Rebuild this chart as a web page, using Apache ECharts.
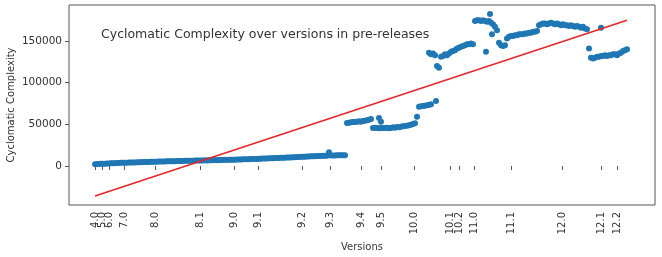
<!DOCTYPE html>
<html>
<head>
<meta charset="utf-8">
<script src="https://cdn.jsdelivr.net/npm/echarts@6/dist/echarts.min.js"></script>
<style>
html,body{margin:0;padding:0;background:#fff;}
#c{width:662px;height:257px;}
</style>
</head>
<body>
<div id="c"></div>
<script>
// Version labels and the pre-release index at which each version starts
const versions = ['4.0','5.0','6.0','7.0','8.0','8.1','9.0','9.1','9.2','9.3','9.4','9.5','10.0','10.1','10.2','11.0','11.1','12.0','12.1','12.2'];
const versionPos = [13,16.5,20,27.5,43,65.5,82.5,94.5,116.5,130.5,146,156,172.5,190.5,195,202.5,221,246.5,266,274];

// Cyclomatic complexity per pre-release (index starts at firstIndex)
const firstIndex = 13;
const ccV4toV9 = [
  2200,2400,2300,2600,2800,2700,3000,3100,3200,3300,3400,3500,3600,3800,3900,4000,
  4000,4100,4200,4300,4300,4500,4600,4600,4700,4800,4900,4900,5000,5100,5200,
  5200,5300,5400,5400,5500,5600,5600,5700,5800,5800,5900,6000,6000,6100,6200,6200,6300,6300,6400,6500,6500,6600,
  6700,6700,6800,6600,6900,7000,7000,7100,7000,7200,7300,7200,7400,7300,7500,7400,7600,
  7600,7700,7800,7900,8000,8000,8100,8200,8300,8400,8500,8500,8700,
  8800,8900,9000,9100,9200,9300,9400,9500,9600,9700,9800,9900,10000,10100,10200,10300,10400,10600,10700,10800,11000,
  11100,11200,11300,11500,11600,11700,11800,11900,12000,12100,12200,12300,12400,16400,12500,
  12600,12700,12800,12800,12900,13000,12900
];
const ccV9toV10 = [
  51600,52000,52400,52800,52800,53200,53600,53200,54000,54400,54800,55600,56400,
  45600,46000,45600,45200,45600,
  45600,45600,46000,45200,45600,46400,46000,46800,46400,47200,47600,48000,48400,48800,49600,50400,51200
];
const ccV10toV12 = [
  59200,71000,71600,72000,72400,72800,73200,74000,
  135000,133000,120000,118000,131000,132000,134000,133000,135000,137000,138000,139000,141000,142000,143000,144000,145000,146000,146000,147000,146000,
  174000,175000,175000,174000,175000,174000,173000,174000,172000,170000,167000,163000,
  148000,145000,144000,145000,153000,155000,
  156000,156000,157000,157000,158000,158000,158000,159000,159000,160000,160000,161000,161000,162000,169000,
  170000,171000,171000,170000,171000,172000,171000,170000,171000,170000,169000,170000,
  169000,169000,168000,169000,168000,167000,168000,167000,166000,167000,165000,164000,
  141000,
  130000,129000,130000,131000,131000,132000,132000,133000,132000,133000,133000,134000,134000,133000,135000,136000,138000,139000,140000
];
// isolated pre-releases [index, value]
const extraPoints = [[155,57600],[156,53000],[180,136000],[181,134000],[183.5,78000],[208.5,137000],[210.5,182400],[211.5,158000],[266,166000]];
// linear trend end points [index, value]
const trendLine = [[13,-36000],[279,175000]];
const yTicks = [0,50000,100000,150000];

const cc = ccV4toV9.concat(ccV9toV10, ccV10toV12);
const scatterData = cc.map((v,k)=>[firstIndex+k, v]).concat(extraPoints);
const labelMap = new Map(versionPos.map((p,i)=>[p, versions[i]]));
// labels split across two axes so crowded neighbours are not auto-hidden
const posA = versionPos.filter((p,i)=>i!==1);
const posB = versionPos.filter((p,i)=>i===1);

const chart = echarts.init(document.getElementById('c'), null, {renderer:'canvas'});
const font = 'DejaVu Sans';
const xLabel = (vals)=>({customValues:vals, rotate:90, margin:7, fontFamily:font, fontSize:10, color:'#333',
      showMinLabel:true, showMaxLabel:true, hideOverlap:false,
      formatter:(v)=>labelMap.has(v)?labelMap.get(v):''});
chart.setOption({
  animation:false,
  backgroundColor:'#fff',
  title:{
    text:'Cyclomatic Complexity over versions in pre-releases',
    left:96, top:23,
    textStyle:{fontFamily:font, fontSize:12.5, fontWeight:'normal', color:'#333'}
  },
  grid:{left:69, right:7, top:5, bottom:52, show:true, borderColor:'#555', borderWidth:1,
    containLabel:false, outerBoundsMode:'none'},
  xAxis:[{
    type:'value', min:0, max:293, position:'bottom',
    name:'Versions', nameLocation:'middle', nameGap:37, nameMoveOverlap:false,
    nameTextStyle:{fontFamily:font, fontSize:10, color:'#333'},
    axisLine:{show:false},
    splitLine:{show:false},
    axisTick:{show:true, length:4, customValues:versionPos, lineStyle:{color:'#555'}},
    axisLabel:xLabel(posA)
  },{
    type:'value', min:0, max:293, position:'bottom',
    axisLine:{show:false},
    splitLine:{show:false},
    axisTick:{show:false},
    axisLabel:xLabel(posB)
  }],
  yAxis:{
    type:'value', min:-46800, max:193200,
    name:'Cyclomatic Complexity', nameLocation:'middle', nameGap:53, nameRotate:90, nameMoveOverlap:false,
    nameTextStyle:{fontFamily:font, fontSize:10, color:'#333'},
    axisLine:{show:false},
    splitLine:{show:false},
    axisTick:{show:true, length:4, customValues:yTicks, lineStyle:{color:'#555'}},
    axisLabel:{customValues:yTicks, margin:7, fontFamily:font, fontSize:10.5, color:'#333',
      formatter:(v)=>String(v)}
  },
  series:[
    {type:'scatter', data:scatterData, symbolSize:6, itemStyle:{color:'#1f77b4', opacity:1}, z:2},
    {type:'line', data:trendLine, symbol:'none', lineStyle:{color:'#e3262b', width:1.6}, z:3}
  ]
});
</script>
</body>
</html>
